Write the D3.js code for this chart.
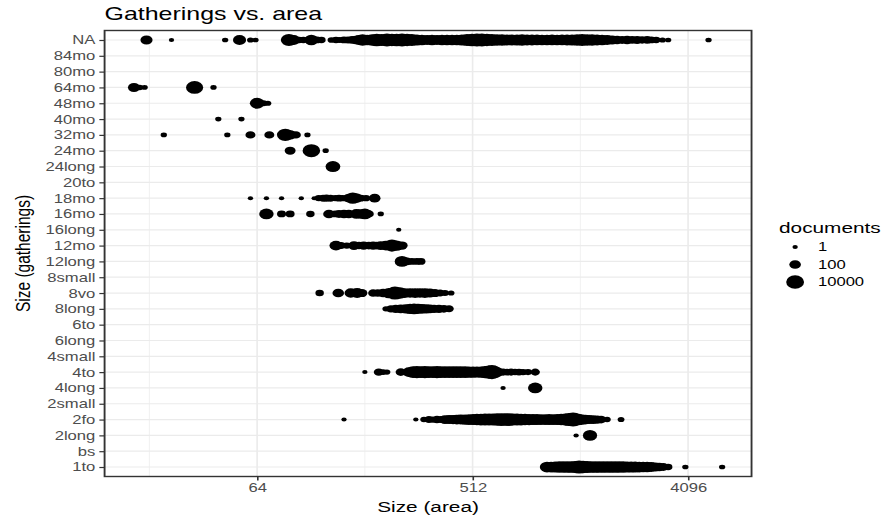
<!DOCTYPE html>
<html>
<head>
<meta charset="utf-8">
<script src="https://cdn.jsdelivr.net/npm/d3@7"></script>
<style>
  body { margin: 0; background: #fff; }
  svg { display: block; }
  text { font-family: "Liberation Sans", Arial, Helvetica, sans-serif; }
</style>
</head>
<body>
<svg id="chart" width="893" height="517" viewBox="0 0 666 517" preserveAspectRatio="none"></svg>
<script>
// Gathering categories, bottom to top
const gatherings = ["1to", "bs", "2long", "2fo", "2small", "4long", "4to", "4small",
  "6long", "6to", "8long", "8vo", "8small", "12long", "12mo", "16long", "16mo",
  "18mo", "20to", "24long", "24mo", "32mo", "40mo", "48mo", "64mo", "80mo", "84mo", "NA"];

// Each entry: [area, documents]
const ptsNA = [[22, 150], [28, 1], [47, 2], [54, 300], [60, 3], [63, 2], [87, 3000], [91, 300],
  [96, 10], [100, 10], [108, 500], [114, 15], [119, 10], [131, 5], [137, 10], [142, 8], [148, 15],
  [154, 20], [160, 40], [166, 100], [171, 300], [177, 1500], [185, 500], [194, 2000], [203, 5000],
  [213, 3000], [224, 6000], [235, 4000], [246, 5000], [259, 8000], [272, 4000], [285, 2500],
  [299, 1200], [314, 600], [330, 400], [346, 500], [363, 400], [381, 500], [400, 600], [420, 500],
  [440, 700], [462, 1200], [485, 3000], [509, 5000], [534, 8000], [560, 6000], [588, 4000],
  [617, 3000], [648, 2000], [680, 1500], [713, 1200], [749, 1000], [786, 1200], [825, 1500],
  [866, 1000], [908, 900], [953, 800], [1000, 700], [1050, 700], [1102, 800], [1157, 700],
  [1214, 800], [1274, 1000], [1337, 1200], [1403, 2000], [1473, 2500], [1546, 2000], [1622, 1500],
  [1702, 1000], [1786, 500], [1875, 300], [1967, 150], [2065, 80], [2167, 50], [2274, 80],
  [2387, 40], [2505, 60], [2629, 30], [2759, 40], [2869, 15], [3010, 10], [3200, 3], [3380, 2],
  [4990, 2]];
const pts64mo = [[19.5, 150], [20.6, 4], [21.6, 2], [35, 6000], [42, 2]];
const pts48mo = [[64, 900], [68, 8], [71, 3]];
const pts40mo = [[44, 2], [55, 2]];
const pts32mo = [[26, 2], [48, 2], [60, 30], [72, 30], [84, 4000], [88, 200], [93, 30], [104, 2]];
const pts24mo = [[88, 60], [108, 8000], [124, 2]];
const pts24long = [[133, 1000]];
const pts18mo = [[60, 1], [70, 1], [81, 1], [98, 1], [111, 1], [116, 8], [121, 20], [125, 30],
  [130, 20], [136, 8], [141, 15], [146, 10], [154, 60], [161, 1500], [167, 200], [174, 15],
  [183, 10], [199, 100]];
const pts16mo = [[70, 800], [81, 15], [88, 15], [107, 10], [128, 100], [136, 15], [141, 50],
  [148, 100], [155, 80], [167, 300], [174, 200], [181, 800], [188, 30], [211, 2]];
const pts16long = [[251, 1]];
const pts12mo = [[137, 300], [144, 20], [152, 10], [163, 100], [171, 30], [179, 80], [188, 40],
  [196, 60], [203, 40], [211, 100], [222, 300], [235, 3000], [246, 500], [259, 80]];
const pts12long = [[259, 900], [272, 40], [285, 15], [299, 15], [311, 15]];
const pts8vo = [[117, 10], [140, 100], [158, 200], [168, 400], [176, 60], [196, 30], [205, 30],
  [216, 100], [228, 500], [242, 8000], [254, 1500], [266, 300], [280, 200], [294, 300],
  [308, 200], [323, 300], [339, 150], [356, 60], [374, 20], [392, 8], [416, 3]];
const pts8long = [[222, 4], [233, 30], [244, 60], [256, 100], [269, 200], [280, 500], [291, 800],
  [302, 400], [314, 300], [327, 200], [339, 100], [353, 60], [370, 60], [388, 40], [408, 20]];
const pts4to = [[181, 1], [207, 30], [216, 5], [224, 3], [256, 40], [277, 300], [288, 2000],
  [299, 3000], [311, 2500], [323, 3000], [336, 2000], [349, 2500], [363, 3000], [377, 2500],
  [392, 2000], [408, 2500], [424, 2000], [440, 2500], [457, 2000], [476, 2000], [494, 1500],
  [514, 1500], [534, 1000], [555, 1500], [577, 3000], [600, 8000], [617, 20000], [636, 2000],
  [660, 60], [687, 20], [714, 15], [742, 20], [771, 12], [801, 15], [833, 10], [874, 8],
  [937, 20]];
const pts4long = [[687, 1], [937, 800]];
const pts2fo = [[148, 1], [296, 1], [320, 4], [336, 20], [349, 10], [363, 30], [377, 20],
  [392, 100], [408, 150], [424, 200], [440, 300], [457, 400], [476, 500], [494, 800], [514, 1000],
  [534, 1500], [555, 2000], [577, 2500], [600, 3000], [623, 3000], [648, 4000], [674, 6000],
  [700, 5000], [728, 6000], [756, 3000], [786, 2500], [817, 2000], [849, 1500], [883, 1200],
  [917, 1000], [953, 1000], [991, 800], [1030, 800], [1071, 1000], [1113, 800], [1157, 1000],
  [1203, 1500], [1250, 3000], [1299, 8000], [1350, 20000], [1403, 3000], [1459, 800],
  [1517, 300], [1576, 150], [1638, 100], [1702, 60], [1769, 40], [1875, 4], [2145, 3]];
const pts2long = [[1390, 1], [1590, 700]];
const pts1to = [[1050, 800], [1092, 800], [1135, 1000], [1180, 1500], [1226, 1500], [1274, 2000],
  [1324, 2000], [1376, 3000], [1431, 8000], [1487, 4000], [1546, 3000], [1607, 2000],
  [1670, 2000], [1736, 2000], [1804, 1500], [1875, 2000], [1949, 1500], [2026, 2000],
  [2106, 1500], [2188, 1500], [2274, 1200], [2364, 1000], [2457, 1000], [2555, 800], [2655, 600],
  [2759, 500], [2869, 300], [2982, 150], [3100, 100], [3226, 50], [3380, 10], [3990, 2],
  [5690, 2]];

const series = [["NA", ptsNA], ["64mo", pts64mo], ["48mo", pts48mo], ["40mo", pts40mo],
  ["32mo", pts32mo], ["24mo", pts24mo], ["24long", pts24long], ["18mo", pts18mo],
  ["16mo", pts16mo], ["16long", pts16long], ["12mo", pts12mo], ["12long", pts12long],
  ["8vo", pts8vo], ["8long", pts8long], ["4to", pts4to], ["4long", pts4long],
  ["2fo", pts2fo], ["2long", pts2long], ["1to", pts1to]];

const xTicks = [64, 512, 4096];
const legendBreaks = [1, 100, 10000];

// ---- layout (drawing units; the svg stretches them horizontally) ----
const panel = { left: 78, right: 560.5, top: 30.5, bottom: 476.5 };
const gridColor = "#ebebeb";
const darkLine = "#333333";
const tickText = "#4d4d4d";

const svg = d3.select("#chart");

const points = series.flatMap(([g, pts]) => pts.map(([area, docs]) => ({ g, area, docs })));

// log2 x scale, expanded 5% on each side
const lo = d3.min(points, d => Math.log2(d.area));
const hi = d3.max(points, d => Math.log2(d.area));
const pad = (hi - lo) * 0.05;
const x = d3.scaleLog().base(2)
  .domain([2 ** (lo - pad), 2 ** (hi + pad)])
  .range([panel.left, panel.right]);

const y = d3.scalePoint().domain(gatherings)
  .range([panel.bottom, panel.top]).padding(0.6);

// point radius grows linearly with log10(documents)
const rScale = d3.scaleLinear().domain([0, 4]).range([2, 6.66]);
const radius = docs => rScale(Math.log10(docs));

// panel background and grid
svg.append("rect")
  .attr("x", panel.left).attr("y", panel.top)
  .attr("width", panel.right - panel.left).attr("height", panel.bottom - panel.top)
  .attr("fill", "#fff");

const minorTicks = d3.pairs(xTicks).map(([a, b]) => Math.sqrt(a * b));
minorTicks.unshift(Math.sqrt(xTicks[0] * xTicks[0] / 8));
const grid = svg.append("g");
grid.selectAll("line.minor").data(minorTicks.filter(v => x(v) > panel.left)).join("line")
  .attr("class", "minor")
  .attr("x1", d => x(d)).attr("x2", d => x(d))
  .attr("y1", panel.top).attr("y2", panel.bottom)
  .attr("stroke", gridColor).attr("stroke-width", 0.6);
grid.selectAll("line.hmajor").data(gatherings).join("line")
  .attr("class", "hmajor")
  .attr("x1", panel.left).attr("x2", panel.right)
  .attr("y1", d => y(d)).attr("y2", d => y(d))
  .attr("stroke", gridColor).attr("stroke-width", 1.2);
grid.selectAll("line.vmajor").data(xTicks).join("line")
  .attr("class", "vmajor")
  .attr("x1", d => x(d)).attr("x2", d => x(d))
  .attr("y1", panel.top).attr("y2", panel.bottom)
  .attr("stroke", gridColor).attr("stroke-width", 1.2);

// points
svg.append("g").selectAll("circle").data(points).join("circle")
  .attr("cx", d => x(d.area))
  .attr("cy", d => y(d.g))
  .attr("r", d => radius(d.docs))
  .attr("fill", "#000");

// panel border
svg.append("rect")
  .attr("x", panel.left).attr("y", panel.top)
  .attr("width", panel.right - panel.left).attr("height", panel.bottom - panel.top)
  .attr("fill", "none").attr("stroke", darkLine).attr("stroke-width", 1.4);

// axes
const styleAxis = g => {
  g.select(".domain").remove();
  g.selectAll(".tick line").attr("stroke", darkLine).attr("stroke-width", 1.2);
  g.selectAll(".tick text").attr("fill", tickText).style("font-size", "12.4px")
    .style("font-family", '"Liberation Sans", Arial, sans-serif');
};
svg.append("g")
  .attr("transform", `translate(${panel.left},0)`)
  .call(d3.axisLeft(y).tickSize(3.9).tickPadding(3))
  .call(styleAxis);
svg.append("g")
  .attr("transform", `translate(0,${panel.bottom})`)
  .call(d3.axisBottom(x).tickValues(xTicks).tickFormat(d3.format("d")).tickSize(3.9).tickPadding(3))
  .call(styleAxis);

// titles
svg.append("text").attr("x", panel.left).attr("y", 20)
  .style("font-size", "18.6px").attr("fill", "#000").text("Gatherings vs. area");
svg.append("text").attr("x", (panel.left + panel.right) / 2).attr("y", 512)
  .attr("text-anchor", "middle").style("font-size", "15.5px").attr("fill", "#000")
  .text("Size (area)");
svg.append("text")
  .attr("transform", `translate(22.4,${(panel.top + panel.bottom) / 2}) rotate(-90)`)
  .attr("text-anchor", "middle").style("font-size", "15.5px").attr("fill", "#000")
  .text("Size (gatherings)");

// size legend
const legend = svg.append("g").attr("transform", "translate(581,0)");
legend.append("text").attr("x", 0).attr("y", 233)
  .style("font-size", "15.5px").attr("fill", "#000").text("documents");
const keyY = d3.scalePoint().domain(legendBreaks).range([247, 282]);
const keys = legend.selectAll("g.key").data(legendBreaks).join("g").attr("class", "key")
  .attr("transform", d => `translate(0,${keyY(d)})`);
keys.append("circle").attr("cx", 12).attr("cy", 0).attr("r", d => radius(d)).attr("fill", "#000");
keys.append("text").attr("x", 29).attr("y", 0).attr("dy", "0.35em")
  .style("font-size", "12.4px").attr("fill", "#000").text(d => d);
</script>
</body>
</html>
